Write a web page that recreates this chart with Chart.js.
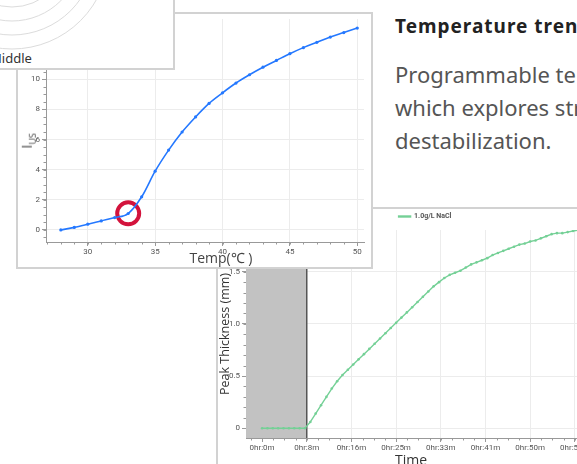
<!DOCTYPE html>
<html>
<head>
<meta charset="utf-8">
<script src="https://cdn.jsdelivr.net/npm/chart.js@4"></script>
<style>
  body { margin:0; width:577px; height:464px; overflow:hidden; position:relative; background:#fff; font-family:"Noto Sans", sans-serif; }
  .card { position:absolute; background:#fff; border:2px solid #d2d2d2; box-sizing:border-box; overflow:hidden; }
  #polarCard { left:-10px; top:-10px; width:185px; height:80px; z-index:3; }
  #tempCard { left:16px; top:12px; width:357px; height:257px; z-index:2; }
  #thickCard { left:216px; top:207px; width:428px; height:270px; z-index:1; }
  #tempCard canvas { position:absolute; left:0; top:-10px; }
  #thickCard canvas { position:absolute; left:0; top:0; }
  .ylab { position:absolute; left:2px; top:116px; transform:rotate(-90deg); transform-origin:center; font-size:14px; color:#444; font-family:"Open Sans", sans-serif; }
  .ylab sub { font-size:9px; }
  .xlab { position:absolute; transform:translateX(-50%); white-space:nowrap; font-size:14px; font-family:"Open Sans", sans-serif; }
  #text { position:absolute; left:395px; top:0; white-space:nowrap; z-index:0; }
  #text h3 { margin:0; position:absolute; top:13px; left:0; font-size:19px; letter-spacing:1px; font-weight:700; color:#222; font-family:"Noto Sans", sans-serif; }
  #text p { margin:0; position:absolute; top:58px; left:0; font-size:22px; line-height:33px; color:#555; font-family:"Noto Sans", sans-serif; }
</style>
</head>
<body>
<div id="text">
  <h3>Temperature trend</h3>
  <p>Programmable temperature ramps<br>which explores structural<br>destabilization.</p>
</div>

<div class="card" id="polarCard">
  <svg width="185" height="80" style="position:absolute;left:0;top:0">
    <g fill="none" stroke="#dcdcdc" stroke-width="1">
      <circle cx="20" cy="-40" r="55"/>
      <circle cx="20" cy="-40" r="69"/>
      <circle cx="20" cy="-40" r="83"/>
      <circle cx="20" cy="-40" r="97"/>
    </g>
  </svg>
  <div style="position:absolute;left:-2px;top:57px;font-size:13px;color:#333">Middle</div>
</div>

<div class="card" id="tempCard">
  <canvas id="tempChart" width="361" height="266"></canvas>
  <div class="ylab">I<sub>US</sub></div>
  <div class="xlab" style="left:203px;top:234px;color:#444">Temp(℃ )</div>
</div>

<div class="card" id="thickCard">
  <canvas id="thickChart" width="424" height="259"></canvas>
  <div class="xlab" style="left:193px;top:241px;color:#333">Time</div>
</div>

<script>
// ===== DATA =====
const temps = [28, 29, 30, 31, 32, 33, 34, 35, 36, 37, 38, 39, 40, 41, 42, 43, 44, 45, 46, 47, 48, 49, 50];
const ius = [0, 0.17, 0.38, 0.6, 0.82, 1.09, 2.2, 3.9, 5.3, 6.5, 7.5, 8.4, 9.1, 9.75, 10.3, 10.8, 11.25, 11.7, 12.1, 12.45, 12.8, 13.1, 13.4];
const tempTicks = [30, 35, 40, 45, 50];
const iusTicks = [0, 2, 4, 6, 8, 10];
const markTemp = [33];
const markIus = [1.1];

const minutes = [0, 1, 2, 3, 4, 5, 6, 7, 8, 9, 10, 11, 12, 13, 14, 15, 16, 17, 18, 19, 20,
  21, 22, 23, 24, 25, 26, 27, 28, 29, 30, 31, 32, 33, 34, 35, 36, 37, 38, 39, 40,
  41, 42, 43, 44, 45, 46, 47, 48, 49, 50, 51, 52, 53, 54, 55, 56, 57, 58, 59, 60];
const thickness = [0, 0, 0, 0, 0, 0, 0, 0, 0, 0.06, 0.14, 0.22, 0.3, 0.38, 0.45, 0.51, 0.56, 0.61, 0.66, 0.71, 0.76,
  0.81, 0.86, 0.91, 0.96, 1.01, 1.06, 1.11, 1.16, 1.21, 1.26, 1.31, 1.36, 1.4, 1.44, 1.47, 1.49, 1.51, 1.54, 1.57, 1.59,
  1.61, 1.63, 1.66, 1.68, 1.7, 1.72, 1.74, 1.76, 1.77, 1.79, 1.8, 1.82, 1.84, 1.86, 1.87, 1.87, 1.88, 1.89, 1.9, 1.91];
const timeTicks = [0, 8.333, 16.667, 25, 33.333, 41.667, 50, 58.333, 66.667];
const timeLabels = ["0hr:0m", "0hr:8m", "0hr:16m", "0hr:25m", "0hr:33m", "0hr:41m", "0hr:50m", "0hr:58m", "0hr:66m"];
const thickTicks = [0, 0.5, 1, 1.5];
const seriesName = "1.0g/L NaCl";
const shadeEnd = 8.333;

// ===== PLUGINS =====
const minorTicks = {
  id: "minorTicks",
  afterDraw(chart, args, o) {
    const ctx = chart.ctx, xs = chart.scales.x, ys = chart.scales.y;
    ctx.save();
    ctx.strokeStyle = o.color || "#999";
    ctx.lineWidth = 1;
    ctx.beginPath();
    if (o.x) {
      for (let v = Math.ceil(xs.min / o.x) * o.x; v <= xs.max; v += o.x) {
        const p = Math.round(xs.getPixelForValue(v)) + 0.5;
        ctx.moveTo(p, xs.top); ctx.lineTo(p, xs.top + 2.5);
      }
    }
    if (o.y) {
      for (let v = Math.ceil(ys.min / o.y) * o.y; v <= ys.max; v += o.y) {
        const p = Math.round(ys.getPixelForValue(v)) + 0.5;
        ctx.moveTo(ys.right, p); ctx.lineTo(ys.right - 2.5, p);
      }
    }
    ctx.stroke();
    ctx.restore();
  }
};

const shade = {
  id: "shade",
  beforeDatasetsDraw(chart, args, o) {
    if (o.end == null) return;
    const ctx = chart.ctx, xs = chart.scales.x, a = chart.chartArea;
    const xe = xs.getPixelForValue(o.end);
    ctx.save();
    ctx.fillStyle = "#c2c2c2";
    ctx.fillRect(a.left, a.top, xe - a.left, a.bottom - a.top);
    ctx.strokeStyle = "#555";
    ctx.lineWidth = 1.5;
    ctx.beginPath(); ctx.moveTo(xe, a.top); ctx.lineTo(xe, a.bottom); ctx.stroke();
    ctx.restore();
  }
};

Chart.register(minorTicks, shade);
Chart.defaults.font.family = "Roboto, 'Liberation Sans', sans-serif";

// ===== TEMP CHART =====
new Chart(document.getElementById("tempChart"), {
  type: "line",
  data: {
    datasets: [{
      data: temps.map((t, i) => ({ x: t, y: ius[i] })),
      borderColor: "#2478ff",
      backgroundColor: "#2478ff",
      borderWidth: 1.6,
      pointRadius: 1.6,
      pointBorderWidth: 0,
      cubicInterpolationMode: "monotone"
    }, {
      data: markTemp.map((t, i) => ({ x: t, y: markIus[i] })),
      showLine: false,
      pointRadius: 11,
      pointBorderWidth: 4,
      borderColor: "#d3133c",
      backgroundColor: "rgba(0,0,0,0)"
    }]
  },
  options: {
    responsive: false,
    animation: false,
    events: [],
    layout: { padding: { top: 4, right: 8, left: 0, bottom: 0 } },
    plugins: {
      legend: { display: false },
      tooltip: { enabled: false },
      minorTicks: { x: 1, y: 0.5, color: "#999" }
    },
    scales: {
      x: {
        type: "linear", min: 26.9, max: 50.5,
        afterBuildTicks: s => { s.ticks = tempTicks.map(v => ({ value: v })); },
        afterFit: s => { s.height = 28; },
        grid: { color: "#ececec", tickColor: "#999", tickLength: 4 },
        border: { color: "#999" },
        ticks: { color: "#555", font: { size: 8 }, padding: 1, maxRotation: 0 }
      },
      y: {
        min: -0.8, max: 14,
        afterBuildTicks: s => { s.ticks = iusTicks.map(v => ({ value: v })); },
        afterFit: s => { s.width = 28; },
        grid: { color: "#ececec", tickColor: "#999", tickLength: 4 },
        border: { color: "#999" },
        ticks: { color: "#555", font: { size: 8 }, padding: 2 }
      }
    }
  }
});

// ===== THICKNESS CHART =====
new Chart(document.getElementById("thickChart"), {
  type: "line",
  data: {
    datasets: [{
      label: seriesName,
      data: minutes.map((m, i) => ({ x: m, y: thickness[i] })),
      borderColor: "#74d096",
      backgroundColor: "#74d096",
      borderWidth: 1.4,
      pointRadius: 1.3,
      pointBorderWidth: 0
    }]
  },
  options: {
    responsive: false,
    animation: false,
    events: [],
    layout: { padding: { top: 0, right: 10, left: 0, bottom: 0 } },
    plugins: {
      legend: {
        display: true,
        position: "top",
        labels: { boxWidth: 12, boxHeight: 1, padding: 4, color: "#555", font: { size: 7, weight: "bold" } }
      },
      tooltip: { enabled: false },
      minorTicks: { x: 2.0833, y: 0.1, color: "#999" },
      shade: { end: shadeEnd }
    },
    scales: {
      x: {
        type: "linear", min: -3, max: 69,
        afterBuildTicks: s => { s.ticks = timeTicks.map(v => ({ value: v })); },
        afterFit: s => { s.height = 30; },
        grid: { color: "#ececec", tickColor: "#999", tickLength: 4 },
        border: { color: "#999" },
        ticks: {
          color: "#555", font: { size: 8 }, padding: 1, maxRotation: 0,
          callback: (v, i) => timeLabels[i]
        }
      },
      y: {
        min: -0.094, max: 1.9,
        afterBuildTicks: s => { s.ticks = thickTicks.map(v => ({ value: v })); },
        afterFit: s => { s.width = 28; },
        grid: { color: "#ececec", tickColor: "#999", tickLength: 4 },
        border: { color: "#999" },
        ticks: { color: "#555", font: { size: 8 }, padding: 2 },
        title: { display: true, text: "Peak Thickness (mm)", color: "#333", font: { size: 12.5, family: "'Open Sans', sans-serif" }, padding: 0 }
      }
    }
  }
});
</script>
</body>
</html>
